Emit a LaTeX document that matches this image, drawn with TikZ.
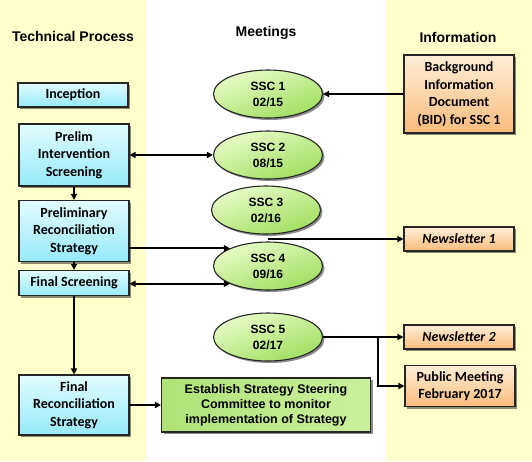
\documentclass[tikz,border=0pt]{standalone}
\usetikzlibrary{arrows.meta,shapes.geometric,shadows}
\usepackage{fontspec}
\setmainfont{Carlito}
\newfontfamily\arialfont{Liberation Sans}

\definecolor{paleyellow}{RGB}{255,255,204}
\definecolor{cyantop}{RGB}{226,252,255}
\definecolor{cyanbot}{RGB}{150,234,250}
\definecolor{greentop}{RGB}{232,252,200}
\definecolor{greenbot}{RGB}{160,222,95}
\definecolor{orangetop}{RGB}{255,238,214}
\definecolor{orangebot}{RGB}{250,188,125}

\begin{document}
\begin{tikzpicture}[x=1pt,y=-1pt,line width=1.6pt,
  arr/.style={-{Triangle[length=6pt,width=6pt]}},
  dbl/.style={{Triangle[length=6pt,width=6pt]}-{Triangle[length=6pt,width=6pt]}},
  shade box/.style={draw=black!85,line width=1.1pt,align=center,inner sep=2pt,
    drop shadow={shadow xshift=2pt,shadow yshift=-2pt,opacity=0.45,fill=black}},
  procbox/.style={shade box,top color=cyantop,bottom color=cyanbot,minimum width=110,
    font=\bfseries\fontsize{14}{17.5}\selectfont},
  infobox/.style={shade box,top color=orangetop,bottom color=orangebot,minimum width=110,
    font=\bfseries\fontsize{14}{17.5}\selectfont},
  meeting/.style={ellipse,draw=black!85,line width=1.1pt,align=center,inner sep=0pt,
    minimum width=109,minimum height=48,top color=greentop,bottom color=greenbot,
    shading angle=20,font=\arialfont\bfseries\fontsize{12}{16}\selectfont,
    drop shadow={shadow xshift=2pt,shadow yshift=-2pt,opacity=0.45,fill=black}},
  header/.style={font=\arialfont\bfseries\fontsize{14}{16}\selectfont}]
% column backgrounds
\fill[paleyellow] (0,0) rectangle (146,461);
\fill[white] (146,0) rectangle (386,461);
\fill[paleyellow] (386,0) rectangle (532,461);
\useasboundingbox (0,0) rectangle (532,461);
% column headings
\node[header] (hproc) at (73,36) {Technical Process};
\node[header] (hmeet) at (266,33) {Meetings};
\node[header] (hinfo) at (458,37) {Information};
% technical process
\node[procbox,minimum height=24] (incep) at (73,95) {Inception};
\node[procbox,minimum height=62] (prelim) at (74,155) {Prelim\\Intervention\\Screening};
\node[procbox,minimum height=61] (prelimrec) at (74,231) {Preliminary\\Reconciliation\\Strategy};
\node[procbox,minimum height=25] (finscr) at (74,283) {Final Screening};
\node[procbox,minimum height=60] (finrec) at (74,405) {Final\\Reconciliation\\Strategy};
% meetings
\node[meeting] (ssc1) at (268,94) {SSC 1\\02/15};
\node[meeting] (ssc2) at (268,155) {SSC 2\\08/15};
\node[meeting] (ssc3) at (266,210) {SSC 3\\02/16};
\node[meeting] (ssc4) at (268,266) {SSC 4\\09/16};
\node[meeting] (ssc5) at (268,337) {SSC 5\\02/17};
\node[shade box,minimum width=209,minimum height=54,left color=greenbot!85,right color=greentop!60!greenbot,
  font=\arialfont\bfseries\fontsize{12.5}{15}\selectfont] (estab) at (266,405)
  {Establish Strategy Steering\\Committee to monitor\\implementation of Strategy};
% information
\node[infobox,minimum height=78] (bid) at (459,94) {Background\\Information\\Document\\(BID) for SSC 1};
\node[infobox,minimum height=24,font=\bfseries\itshape\fontsize{14}{17.5}\selectfont] (nl1) at (459,239) {Newsletter 1};
\node[infobox,minimum height=24,font=\bfseries\itshape\fontsize{14}{17.5}\selectfont] (nl2) at (459,337) {Newsletter 2};
\node[infobox,minimum height=41] (pubmeet) at (460,386) {Public Meeting\\February 2017};
% process flow
\draw[arr] (prelim) -- (prelimrec);
\draw[arr] (prelimrec) -- (finscr);
\draw[arr] (finscr) -- (finrec);
\draw[arr] (finrec) -- (estab);
% links to meetings
\draw[arr] (bid) -- (ssc1);
\draw[dbl] (prelim) -- (ssc2);
\draw[arr] (prelimrec.east |- ssc4.155) -- (ssc4.155);
\draw[dbl] (finscr.east |- ssc4.205) -- (ssc4.205);
% outputs
\coordinate (gap34) at (268,239);
\draw[arr] (gap34) -- (nl1);
\draw[arr] (ssc5) -- (nl2);
\coordinate (split) at (378,337);
\draw[arr] (split) |- (pubmeet);
\end{tikzpicture}
\end{document}
